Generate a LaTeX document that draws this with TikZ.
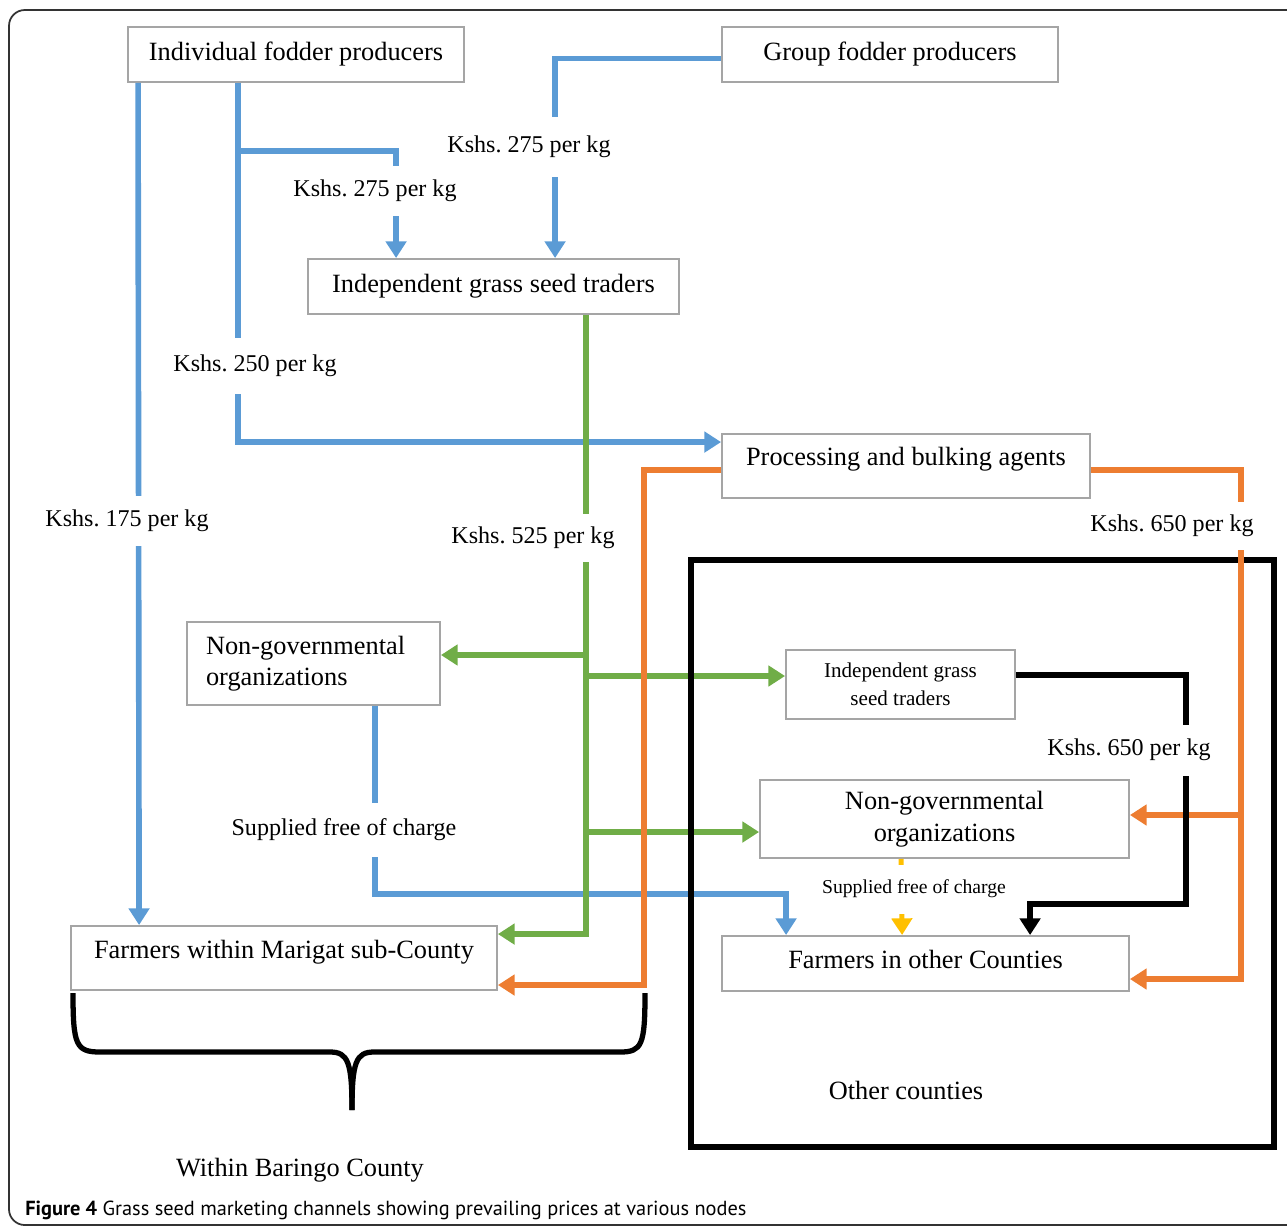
\documentclass[tikz,border=0pt]{standalone}
\usepackage{fontspec}
\setmainfont{Liberation Serif}
\newfontfamily\capfont{PT Sans}
\usetikzlibrary{arrows.meta,calc}
\frenchspacing

\definecolor{lblue}{HTML}{5B9BD5}
\definecolor{lgreen}{HTML}{70AD47}
\definecolor{lorange}{HTML}{ED7D31}
\definecolor{lyellow}{HTML}{FFC000}
\definecolor{boxgray}{HTML}{A5A5A5}

\begin{document}
\begin{tikzpicture}[x=0.02cm, y=-0.02cm,
    box/.style={draw=boxgray, line width=1.1pt, font=\fontsize{15}{18}\selectfont},
    flow/.style={line width=3.2pt, -{Triangle[length=9.5pt,width=11.5pt]}},
    price/.style={fill=white, inner xsep=1pt, font=\fontsize{13.7}{16}\selectfont}]
      \useasboundingbox (0,0) rectangle (1287,1228);
      \draw[black!80, line width=1pt, rounded corners=9pt] (9,10) rectangle (1320,1225);

      % boxes
      \node[box, minimum width=6.72cm, minimum height=1.1cm] (ifp) at (296,54.5) {Individual fodder producers};
      \node[box, minimum width=6.72cm, minimum height=1.1cm] (gfp) at (890,54.5) {Group fodder producers};
      \node[box, minimum width=7.42cm, minimum height=1.1cm] (igt) at (493.5,286.5) {Independent grass seed traders};
      \node[box, minimum width=7.36cm, minimum height=1.28cm, text depth=11pt] (pba) at (906,466) {Processing and bulking agents};
      \node[box, minimum width=5.06cm, minimum height=1.66cm, text width=4.3cm, align=left] (ngo) at (313.5,663.5) {Non-governmental\\organizations};
      \node[box, minimum width=8.52cm, minimum height=1.28cm, text depth=10pt] (fms) at (284,958) {Farmers within Marigat sub-County};
      \node[box, minimum width=4.58cm, minimum height=1.38cm, align=center, font=\fontsize{12}{15.9}\selectfont] (igt2) at (900.5,684.5) {Independent grass\\seed traders};
      \node[box, minimum width=7.38cm, minimum height=1.56cm, align=center] (ngo2) at (944.5,819) {Non-governmental\\organizations};
      \node[box, minimum width=8.14cm, minimum height=1.1cm, text depth=5pt] (foc) at (925.5,963.5) {Farmers in other Counties};

      % blue
      \draw[flow, lblue] ($(ifp.south west)+(11,0)$) -- ($(fms.north west)+(69,0)$);
      \draw[flow, lblue] ($(ifp.south west)+(111,0)$) |- ($(pba.north west)+(0,9)$);
      \draw[flow, lblue] ($(ifp.south west)+(111,68)$) -| ($(igt.north west)+(89,0)$);
      \draw[flow, lblue] ($(gfp.west)+(0,4)$) -| ($(igt.north west)+(248,0)$);
      \draw[flow, lblue] ($(ngo.south west)+(189,0)$) |- ($(foc.north west)+(65,-41)$) -- ($(foc.north west)+(65,0)$);

      % green
      \coordinate (gtop) at ($(igt.south west)+(279,0)$);
      \draw[flow, lgreen] (gtop) |- ($(fms.north east)+(0,9)$);
      \draw[flow, lgreen] ($(gtop |- ngo.east)+(0,-8.5)$) -- ($(ngo.east)+(0,-8.5)$);
      \draw[flow, lgreen] ($(gtop |- igt2.west)+(0,-8.5)$) -- ($(igt2.west)+(0,-8.5)$);
      \draw[flow, lgreen] ($(gtop |- ngo2.west)+(0,13)$) -- ($(ngo2.west)+(0,13)$);

      \draw[line width=3pt] (691,560) rectangle (1274,1147);

      % orange
      \draw[flow, lorange] ($(pba.west)+(0,4)$) -- ++(-77,0) |- ($(fms.east)+(0,27)$);
      \draw[flow, lorange] ($(pba.east)+(0,4)$) -- ++(150,0) |- ($(foc.east)+(0,15.5)$);
      \draw[flow, lorange] ($(pba.east |- ngo2.east)+(150,-4)$) -- ($(ngo2.east)+(0,-4)$);

      % black and yellow
      \draw[flow] ($(igt2.east)+(0,-9.5)$) -- ++(170,0) |- ($(foc.north west)+(309,-31)$) -- ($(foc.north west)+(309,0)$);
      \draw[flow, lyellow, line width=2.8pt] ($(ngo2.south west)+(142,0)$) -- ($(foc.north west)+(181,0)$);

      % prices
      \node[price, minimum height=1cm] (p175) at (127,521) {Kshs. 175 per kg};
      \node[price, minimum height=1.12cm] (p250) at (255,366) {Kshs. 250 per kg};
      \node[price, minimum height=1cm] (p275a) at (375,191) {Kshs. 275 per kg};
      \node[price, minimum height=1.2cm] (p275b) at (529,147) {Kshs. 275 per kg};
      \node[price, minimum height=0.96cm] (p525) at (533,538) {Kshs. 525 per kg};
      \node[price, minimum height=0.96cm] (p650a) at (1172,526) {Kshs. 650 per kg};
      \node[price, minimum height=1.02cm] (p650b) at (1129,750) {Kshs. 650 per kg};
      \node[price, minimum height=1.08cm] (free) at (344,830) {Supplied free of charge};
      \node[price, minimum height=0.98cm, font=\fontsize{11.2}{13}\selectfont] (free2) at (914,889) {Supplied free of charge};

      % brace
      \draw[line width=3pt] (73,993) .. controls (73,1045) and (76,1052) .. (100,1052) -- (330,1052) .. controls (348,1052) and (352,1062) .. (352,1110);
      \draw[line width=3pt] (645,993) .. controls (645,1045) and (642,1052) .. (620,1052) -- (374,1052) .. controls (356,1052) and (352,1062) .. (352,1110);

      \node[font=\fontsize{15}{18}\selectfont] (oth) at (906,1090) {Other counties};
      \node[font=\fontsize{15}{18}\selectfont] (wbc) at (300,1170) {Within Baringo County};
      \node[anchor=west, inner sep=0pt, font=\capfont\fontsize{11.6}{14}\selectfont] (cap) at (25,1210) {\textbf{Figure 4} Grass seed marketing channels showing prevailing prices at various nodes};
\end{tikzpicture}
\end{document}
